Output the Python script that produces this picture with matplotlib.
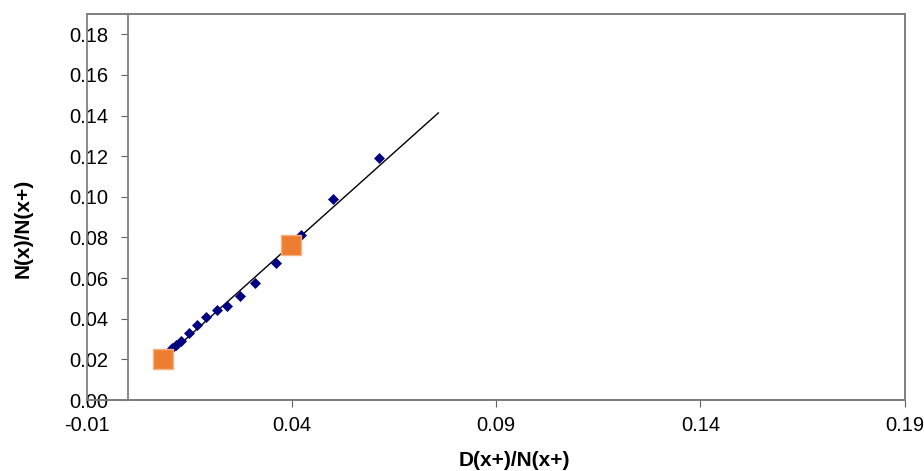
import matplotlib.pyplot as plt
from matplotlib.patches import Rectangle

plt.rcParams['font.family'] = ['Liberation Sans', 'DejaVu Sans']

# observed points (blue diamonds)
obs_x = [0.0107, 0.0117, 0.0129, 0.0149, 0.0170, 0.0192, 0.0218, 0.0242,
         0.0275, 0.0310, 0.0363, 0.0424, 0.0501, 0.0615]
obs_y = [0.0254, 0.0271, 0.0292, 0.0328, 0.0369, 0.0410, 0.0443, 0.0464,
         0.0512, 0.0577, 0.0672, 0.0812, 0.0989, 0.1189]

# highlighted points (orange squares)
hi_x = [0.0086, 0.0398]
hi_y = [0.0202, 0.0762]

# trend line end points
trend_x = [0.0086, 0.0759]
trend_y = [0.0200, 0.1413]

x_ticks = [-0.01, 0.04, 0.09, 0.14, 0.19]
y_ticks = [0.00, 0.02, 0.04, 0.06, 0.08, 0.10, 0.12, 0.14, 0.16, 0.18]

fig = plt.figure(figsize=(9.24, 4.71), dpi=100)
ax = fig.add_axes([0.0942, 0.1507, 0.8852, 0.8196])

ax.plot(trend_x, trend_y, color='black', lw=1.0, zorder=3)
ax.plot(obs_x, obs_y, linestyle='none', marker='D', ms=5.5,
        mfc='#000080', mec='#000080', mew=0.5, zorder=4)
ax.plot(hi_x, hi_y, linestyle='none', marker='s', ms=14,
        mfc='#ED7D31', mec='#F4B183', mew=1.0, zorder=5)

ax.set_xlim(-0.01, 0.19)
ax.set_ylim(0, 0.19)
ax.set_xticks(x_ticks)
ax.set_xticklabels([f"{v:.2f}" for v in x_ticks])
ax.set_yticks(y_ticks)
ax.set_yticklabels([f"{v:.2f}" for v in y_ticks])

ax.spines['left'].set_position(('data', 0))
for s in ['left', 'bottom', 'top', 'right']:
    ax.spines[s].set_color('#808080')
    ax.spines[s].set_linewidth(1.3)
ax.spines['bottom'].set_color('#606060')

# outer plot-area frame edge at the left of the data range
ax.add_patch(Rectangle((0, 0), 1, 1, transform=ax.transAxes, fill=False,
                       edgecolor='#808080', lw=1.3, clip_on=False, zorder=6))

ax.tick_params(axis='both', direction='out', length=5, color='#606060',
               labelsize=14.5, labelcolor='black')
ax.tick_params(axis='y', pad=9.4)
ax.tick_params(axis='x', pad=6.5)

ax.set_xlabel('D(x+)/N(x+)', fontsize=15, fontweight='bold')
ax.set_ylabel('N(x)/N(x+)', fontsize=15, fontweight='bold')
ax.xaxis.set_label_coords(0.523, -0.133, transform=ax.transAxes)
ax.yaxis.set_label_coords(-0.066, 0.4456, transform=ax.transAxes)

fig.savefig('out.png', dpi=100)
